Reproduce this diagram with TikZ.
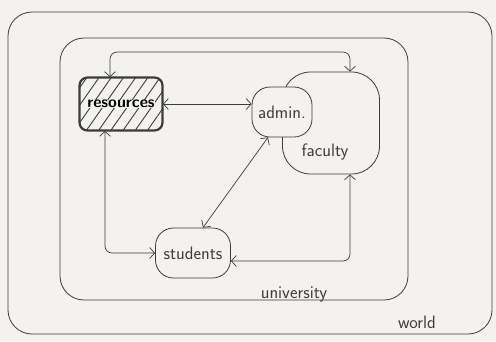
\documentclass[tikz,border=0pt]{standalone}
\usepackage{tikz}
\usetikzlibrary{positioning,arrows.meta,calc,patterns.meta}
\definecolor{paper}{RGB}{243,242,238}
\definecolor{ink}{RGB}{60,60,60}

\begin{document}
\begin{tikzpicture}[x=1pt, y=-1pt,
  every node/.style={font=\fontsize{18}{20}\sffamily, text=ink},
  zone/.style={draw=ink, line width=0.8pt, rounded corners=24pt},
  blob/.style={draw=ink, line width=0.8pt, fill=paper, inner sep=0pt},
  store/.style={draw=ink, line width=2.2pt, rounded corners=8pt, inner sep=0pt, minimum width=83pt, minimum height=53pt,
    pattern={Lines[angle=55, distance=10pt, line width=0.9pt]}, pattern color=ink},
  arr/.style={{Straight Barb[length=5pt, width=11pt]}-{Straight Barb[length=5pt, width=11pt]}, draw=ink, line width=0.7pt, rounded corners=7pt}]
\useasboundingbox[fill=paper] (0,0) rectangle (496,341);
% containers
\draw[zone] (8,12) rectangle (492,334);
\draw[zone] (60,38) rectangle (408,300);
\node (worldlbl) at (417,322) {world};
\node (unilbl) at (294,294) {university};
% parts
\node[store] (res) at (121,104) {};
\node[fill=paper, inner sep=0.5pt, text=black, font=\fontsize{16}{18}\sffamily\bfseries] (reslbl) at (res) {resources};
\node[blob, rounded corners=28pt, minimum width=97pt, minimum height=102pt] (faculty) at (331,123) {};
\node (faclbl) at (325,152) {faculty};
\node[blob, rounded corners=18pt, minimum width=60pt, minimum height=50pt] (admin) at (282,112) {admin.};
\node[blob, rounded corners=18pt, minimum width=75pt, minimum height=50pt] (students) at (193,253) {students};
% links
\draw[arr] (res.east) -- (res.east -| admin.west);
\draw[arr] ([xshift=-11pt]res.north) -- ++(0,-25) -| ([xshift=19pt]faculty.north);
\draw[arr] ([xshift=-16pt]res.south) |- (students.west);
\draw[arr] ([xshift=-14pt]admin.south) -- ([xshift=10pt]students.north);
\draw[arr] ([yshift=-8pt]students.east) -| ([xshift=19pt]faculty.south);
\end{tikzpicture}
\end{document}
